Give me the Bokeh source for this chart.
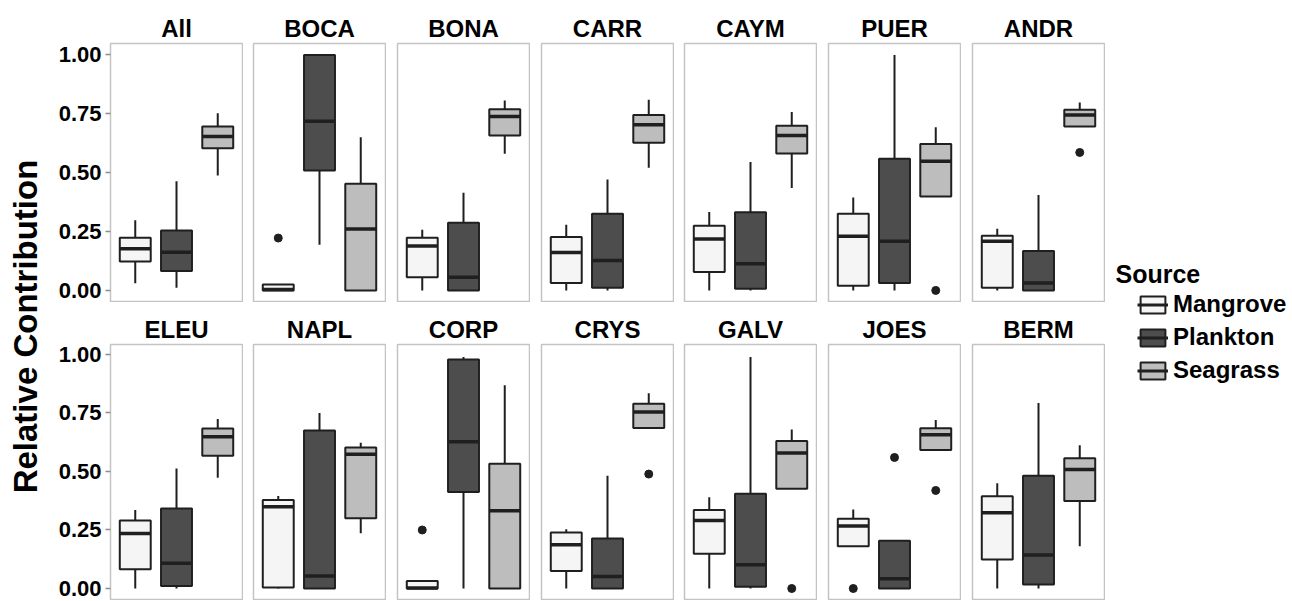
import math
from bokeh.plotting import figure
from bokeh.layouts import row, column
from bokeh.models import (ColumnDataSource, Range1d, Label, Legend, LegendItem,
                          FixedTicker, PrintfTickFormatter)
from bokeh.embed import file_html
from bokeh.resources import INLINE

# ---------------- data ----------------
SITES_TOP = ["All", "BOCA", "BONA", "CARR", "CAYM", "PUER", "ANDR"]
SITES_BOTTOM = ["ELEU", "NAPL", "CORP", "CRYS", "GALV", "JOES", "BERM"]
SITES = SITES_TOP + SITES_BOTTOM
SOURCES = ["Mangrove", "Plankton", "Seagrass"]
Y_TICKS = [0.00, 0.25, 0.50, 0.75, 1.00]

# five-number summaries, one value per site (order of SITES)
MANGROVE_LOW  = [0.03, 0.00, 0.00, 0.00, 0.00, 0.00, 0.00, 0.00, 0.00, 0.00, 0.00, 0.00, 0.181, 0.00]
MANGROVE_Q1   = [0.123, 0.00, 0.056, 0.031, 0.078, 0.020, 0.011, 0.082, 0.004, 0.00, 0.075, 0.148, 0.181, 0.124]
MANGROVE_MED  = [0.177, 0.004, 0.188, 0.161, 0.218, 0.230, 0.209, 0.235, 0.349, 0.002, 0.187, 0.291, 0.267, 0.324]
MANGROVE_Q3   = [0.223, 0.025, 0.223, 0.226, 0.274, 0.325, 0.232, 0.291, 0.378, 0.032, 0.239, 0.335, 0.298, 0.394]
MANGROVE_HIGH = [0.297, 0.025, 0.257, 0.278, 0.333, 0.394, 0.261, 0.335, 0.395, 0.032, 0.253, 0.390, 0.338, 0.450]

PLANKTON_LOW  = [0.011, 0.194, 0.00, 0.00, 0.00, 0.00, 0.00, 0.00, 0.00, 0.00, 0.00, 0.00, 0.00, 0.00]
PLANKTON_Q1   = [0.082, 0.508, 0.00, 0.011, 0.007, 0.031, 0.00, 0.011, 0.00, 0.412, 0.00, 0.007, 0.00, 0.017]
PLANKTON_MED  = [0.162, 0.717, 0.056, 0.127, 0.113, 0.208, 0.031, 0.108, 0.053, 0.627, 0.051, 0.101, 0.042, 0.143]
PLANKTON_Q3   = [0.254, 0.998, 0.287, 0.325, 0.331, 0.558, 0.167, 0.342, 0.675, 0.979, 0.214, 0.405, 0.204, 0.482]
PLANKTON_HIGH = [0.463, 0.998, 0.414, 0.470, 0.544, 0.998, 0.405, 0.513, 0.750, 0.989, 0.482, 0.989, 0.204, 0.793]

SEAGRASS_LOW  = [0.487, 0.00, 0.579, 0.520, 0.434, 0.398, 0.695, 0.473, 0.236, 0.00, 0.686, 0.426, 0.592, 0.180]
SEAGRASS_Q1   = [0.603, 0.00, 0.657, 0.626, 0.581, 0.398, 0.695, 0.567, 0.300, 0.00, 0.686, 0.426, 0.592, 0.374]
SEAGRASS_MED  = [0.653, 0.260, 0.737, 0.702, 0.657, 0.548, 0.744, 0.648, 0.574, 0.332, 0.754, 0.579, 0.657, 0.508]
SEAGRASS_Q3   = [0.695, 0.452, 0.768, 0.744, 0.698, 0.621, 0.766, 0.684, 0.603, 0.533, 0.789, 0.630, 0.685, 0.557]
SEAGRASS_HIGH = [0.751, 0.650, 0.805, 0.808, 0.757, 0.692, 0.797, 0.724, 0.623, 0.869, 0.834, 0.679, 0.720, 0.612]

OUTLIER_SITE   = ["BOCA", "PUER", "ANDR", "CORP", "CRYS", "GALV", "JOES", "JOES", "JOES"]
OUTLIER_SOURCE = ["Mangrove", "Seagrass", "Seagrass", "Mangrove", "Seagrass", "Seagrass", "Mangrove", "Plankton", "Seagrass"]
OUTLIER_VALUE  = [0.222, 0.0, 0.585, 0.250, 0.489, 0.0, 0.0, 0.560, 0.419]

STATS = {
    "Mangrove": (MANGROVE_LOW, MANGROVE_Q1, MANGROVE_MED, MANGROVE_Q3, MANGROVE_HIGH),
    "Plankton": (PLANKTON_LOW, PLANKTON_Q1, PLANKTON_MED, PLANKTON_Q3, PLANKTON_HIGH),
    "Seagrass": (SEAGRASS_LOW, SEAGRASS_Q1, SEAGRASS_MED, SEAGRASS_Q3, SEAGRASS_HIGH),
}

# ---------------- style ----------------
FILLS = {"Mangrove": "#f5f5f5", "Plankton": "#4d4d4d", "Seagrass": "#bdbdbd"}
EDGE = "#1f1f1f"
BORDER = "#c4c4c4"
FONT = "Liberation Sans"
BOX_W = 0.75
FRAME_W = 132
YLAB_W = 52
LEFT_BORDERS = [110 - YLAB_W, 10, 11, 11, 10, 11, 11]
TOP_RANGE = (-0.047, 1.047)
BOT_RANGE = (-0.0513, 1.0427)
XPOS = {s: i + 1 for i, s in enumerate(SOURCES)}


def site_source(site):
    si = SITES.index(site)
    xs, lo, q1, med, q3, hi, fill, mx0, mx1 = [], [], [], [], [], [], [], [], []
    for s in SOURCES:
        L, Q1, M, Q3, H = STATS[s]
        x = XPOS[s]
        xs.append(x); lo.append(L[si]); q1.append(Q1[si]); med.append(M[si])
        q3.append(Q3[si]); hi.append(H[si]); fill.append(FILLS[s])
        mx0.append(x - BOX_W / 2); mx1.append(x + BOX_W / 2)
    return ColumnDataSource(dict(x=xs, lo=lo, q1=q1, med=med, q3=q3, hi=hi,
                                 fill=fill, mx0=mx0, mx1=mx1, source=SOURCES))


def panel(site, col, is_top):
    src = site_source(site)
    ox = [XPOS[s] for st, s in zip(OUTLIER_SITE, OUTLIER_SOURCE) if st == site]
    oy = [v for st, v in zip(OUTLIER_SITE, OUTLIER_VALUE) if st == site]
    osrc = ColumnDataSource(dict(x=ox, y=oy))

    yr = TOP_RANGE if is_top else BOT_RANGE
    p = figure(frame_width=FRAME_W, frame_height=258 if is_top else 256,
               x_range=Range1d(0.4, 3.6), y_range=Range1d(*yr),
               min_border_left=LEFT_BORDERS[col], min_border_right=1,
               min_border_top=43 if is_top else 42,
               min_border_bottom=1 if is_top else 0,
               toolbar_location=None, output_backend="svg",
               x_axis_location=None,
               y_axis_location="left" if col == 0 else None,
               title=site)
    p.title.align = "center"
    p.title.text_font = FONT
    p.title.text_font_size = "24px"
    p.title.text_font_style = "bold"
    p.title.text_color = "black"
    p.title.standoff = 3
    p.xgrid.visible = False
    p.ygrid.visible = False
    p.outline_line_color = BORDER
    p.outline_line_width = 1.5
    p.background_fill_color = "white"
    p.border_fill_color = "white"
    if col == 0:
        ax = p.yaxis[0]
        ax.ticker = FixedTicker(ticks=Y_TICKS)
        ax.formatter = PrintfTickFormatter(format="%.2f")
        ax.axis_line_color = None
        ax.major_tick_line_color = "#8c8c8c"
        ax.major_tick_line_width = 1.5
        ax.major_tick_out = 5
        ax.major_tick_in = 0
        ax.minor_tick_line_color = None
        ax.major_label_standoff = 4
        ax.major_label_text_font = FONT
        ax.major_label_text_font_size = "22px"
        ax.major_label_text_font_style = "bold"
        ax.major_label_text_color = "black"

    p.segment(x0="x", y0="q3", x1="x", y1="hi", source=src, line_color=EDGE, line_width=2)
    p.segment(x0="x", y0="lo", x1="x", y1="q1", source=src, line_color=EDGE, line_width=2)
    p.vbar(x="x", bottom="q1", top="q3", width=BOX_W, source=src,
           fill_color="fill", line_color=EDGE, line_width=2)
    p.segment(x0="mx0", y0="med", x1="mx1", y1="med", source=src,
              line_color=EDGE, line_width=3.5)
    p.scatter(x="x", y="y", source=osrc, size=8, fill_color=EDGE, line_color=EDGE)
    return p


top_row = row([panel(s, i, True) for i, s in enumerate(SITES_TOP)], spacing=0)
bot_row = row([panel(s, i, False) for i, s in enumerate(SITES_BOTTOM)], spacing=0)
grid = column([top_row, bot_row], spacing=0)

TOTAL_H = 302 + 42 + 256

# y-axis title column
ylab = figure(width=YLAB_W, height=TOTAL_H, x_range=Range1d(0, 1), y_range=Range1d(0, 1),
              min_border=0, toolbar_location=None, output_backend="svg",
              x_axis_location=None, y_axis_location=None)
ylab.xgrid.visible = False
ylab.ygrid.visible = False
ylab.outline_line_color = None
ylab.add_layout(Label(x=25, y=TOTAL_H - 326, x_units="screen", y_units="screen",
                      text="Relative Contribution", angle=math.pi / 2,
                      text_align="center", text_baseline="middle",
                      text_font=FONT, text_font_size="33px",
                      text_font_style="bold", text_color="black"))

# legend column: hidden renderers carry the fill of each source for the keys
leg = figure(width=185, height=TOTAL_H, x_range=Range1d(0, 1), y_range=Range1d(0, 1),
             min_border=0, toolbar_location=None, output_backend="svg",
             x_axis_location=None, y_axis_location=None)
leg.xgrid.visible = False
leg.ygrid.visible = False
leg.outline_line_color = None
key_src = site_source("All")
rb = leg.vbar(x="x", top="q3", bottom="q1", width=BOX_W, source=key_src,
              fill_color="fill", line_color=EDGE, line_width=2, visible=False)
rm = leg.segment(x0="mx0", y0="med", x1="mx1", y1="med", source=key_src,
                 line_color=EDGE, line_width=3, visible=False)
items = [LegendItem(label=s, renderers=[rb, rm], index=j) for j, s in enumerate(SOURCES)]
legend = Legend(items=items, location=(32, TOTAL_H - 384), padding=0, margin=0,
                border_line_color=None, background_fill_alpha=0,
                inactive_fill_alpha=0,
                glyph_width=31, glyph_height=21, label_standoff=5, spacing=5,
                label_text_font=FONT, label_text_font_size="24px",
                label_text_font_style="bold", label_text_color="black")
leg.add_layout(legend)
leg.add_layout(Label(x=10, y=TOTAL_H - 273, x_units="screen", y_units="screen",
                     text="Source", text_baseline="middle",
                     text_font=FONT, text_font_size="25px",
                     text_font_style="bold", text_color="black"))

layout = row([ylab, grid, leg], spacing=0)
open("out.html", "w").write(file_html(layout, INLINE))
